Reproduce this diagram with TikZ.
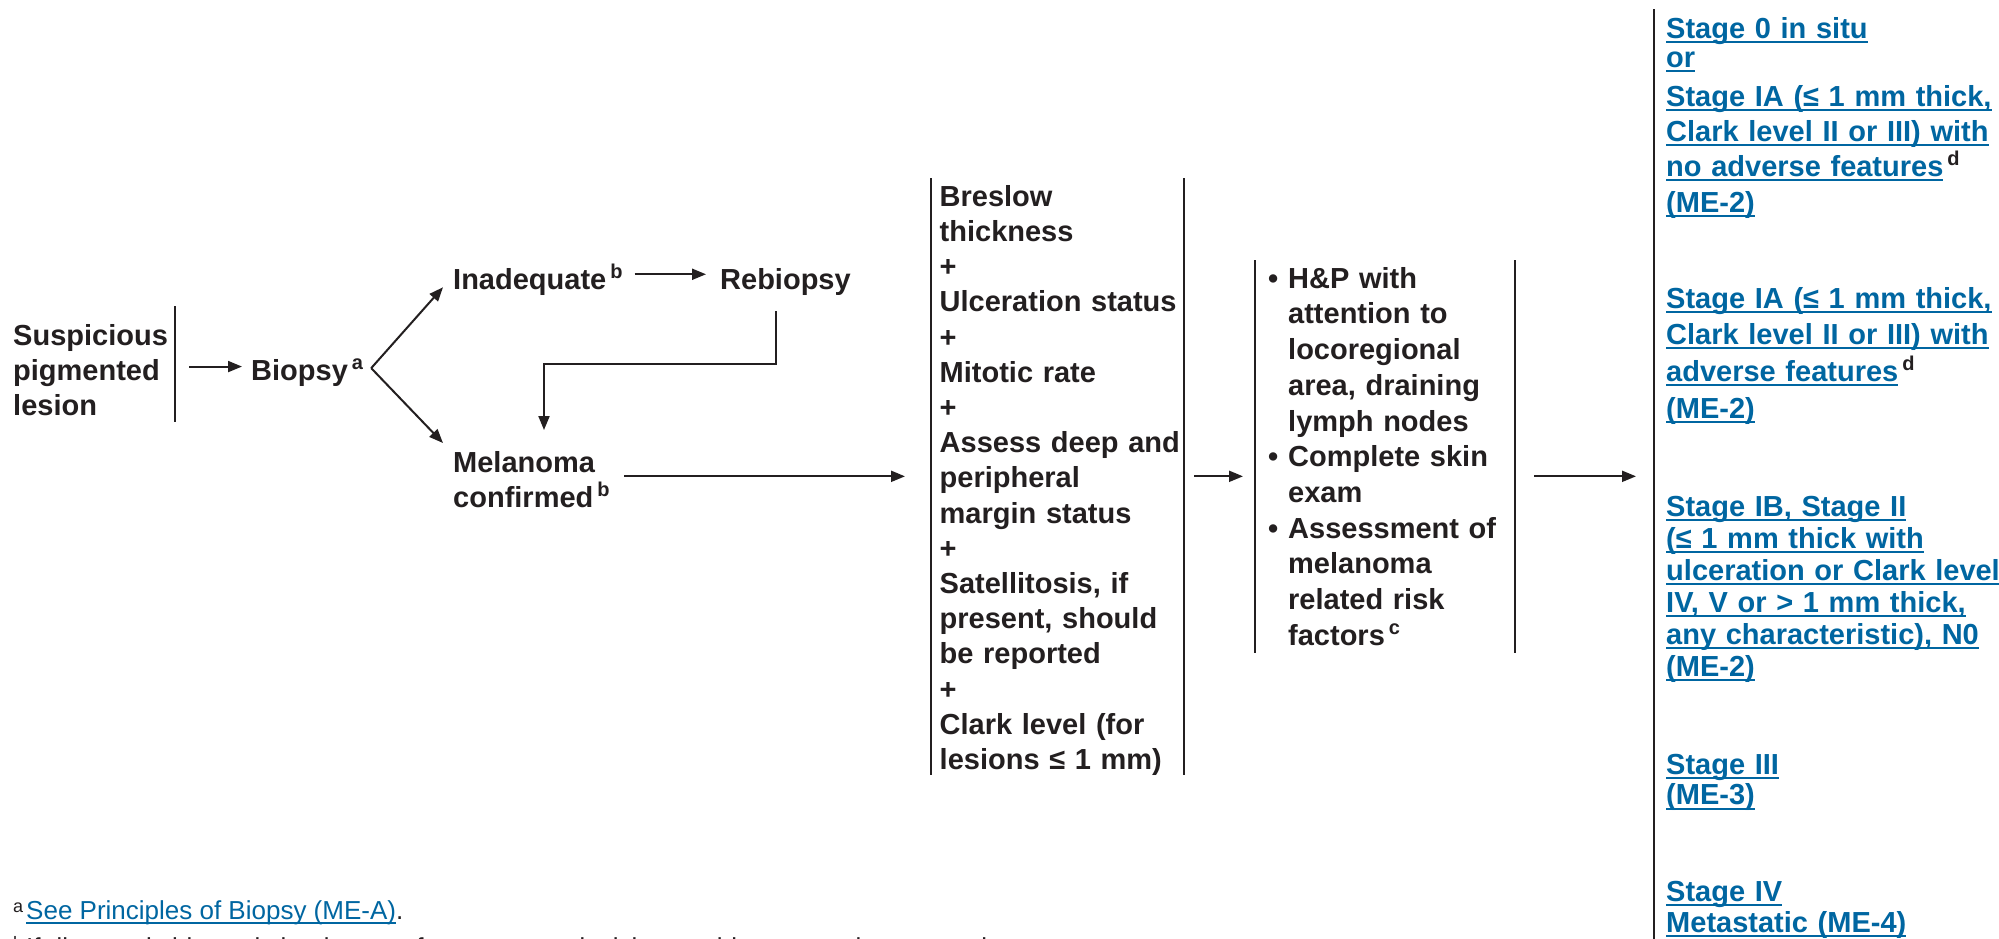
\documentclass[tikz,border=0pt]{standalone}
\usepackage{fontspec}
\setmainfont{Liberation Sans}
\usetikzlibrary{arrows.meta}
\definecolor{ink}{HTML}{231F20}
\definecolor{nccnblue}{HTML}{0066A1}
\setlength{\parindent}{0pt}
\newsavebox{\ulbox}
\newcommand{\uln}[1]{\leavevmode\sbox{\ulbox}{#1}\rlap{\rule[-5pt]{\wd\ulbox}{2pt}}\usebox{\ulbox}}
\newcommand{\fn}[1]{\hspace{4pt}\raisebox{11pt}{\fontsize{20}{20}\selectfont #1}}
\newcommand{\fnote}[1]{\raisebox{7pt}{\fontsize{18}{18}\selectfont #1}\hspace{3pt}}
\newcommand{\bitem}{\hangindent=23pt\hangafter=1\noindent\makebox[23pt][l]{\hspace{3pt}\textbullet}}
\begin{document}
\begin{tikzpicture}[
      x=1pt, y=-1pt, %one unit is one pixel, y runs down
      txt/.style={inner sep=0, text=ink, font=\fontsize{29}{35.2}\selectfont\bfseries},
      col/.style={txt, align=left, anchor=north west},
      stage/.style={txt, text=nccnblue, align=left, anchor=north west, text width=400pt},
      note/.style={inner sep=0, text=ink, anchor=base west, font=\fontsize{26}{32}\selectfont},
      bar/.style={draw=ink, line width=2pt},
      arr/.style={draw=ink, line width=2pt, ->, >={Triangle[length=14pt,width=11pt]}}
    ]
    \fill[white] (0,0) rectangle (1999,938);
    \useasboundingbox (0,0) rectangle (1999,938);
    \clip (0,0) rectangle (1999,938);
    % first column
    \node[col, text width=162pt] (lesion) at (13,324) {Suspicious\\pigmented\\lesion};
    \draw[bar] ([yshift=18pt]lesion.north east) -- ([yshift=-6pt]lesion.south east);
    \node[txt, anchor=base west] (biopsy) at (251,380) {Biopsy\fn{a}};
    \node[txt, anchor=base west] (inadequate) at (453,289) {Inadequate\fn{b}};
    \node[txt, anchor=base west] (rebiopsy) at (720,289) {Rebiopsy};
    \node[col, text width=160pt] (melanoma) at (453,451) {Melanoma\\confirmed\fn{b}};
    % workup columns
    \node[col, inner xsep=8.5pt, inner ysep=5pt, text width=245pt] (assess) at (931,180)
      {Breslow\\thickness\\+\\Ulceration status\\+\\Mitotic rate\\+\\Assess deep and\\peripheral\\margin status\\+\\Satellitosis, if\\present, should\\be reported\\+\\Clark level (for\\lesions ≤ 1 mm)};
    \draw[bar] ([yshift=2pt]assess.north west) -- ([yshift=6pt]assess.south west);
    \draw[bar] ([xshift=-9pt,yshift=2pt]assess.north east) -- ([xshift=-9pt,yshift=6pt]assess.south east);
    \node[col, inner xsep=10pt, inner ysep=7pt, text width=240pt,
      font=\fontsize{29}{35.7}\selectfont\bfseries] (hp) at (1255,260)
      {\bitem H\&P with\newline attention to\newline locoregional\newline area, draining\newline lymph nodes\par
       \bitem Complete skin\newline exam\par
       \bitem Assessment of\newline melanoma\newline related risk\newline factors\fn{c}\par};
    \draw[bar] (hp.north west) -- (hp.south west);
    \draw[bar] (hp.north east) -- (hp.south east);
    % stages
    \coordinate (stagetop) at (1654,9);
    \coordinate (stagebot) at (1654,945);
    \draw[bar, line width=2.5pt] (stagetop) -- (stagebot);
    \node[stage, font=\fontsize{29}{35}\selectfont\bfseries] (stage0) at (1666,17)
      {\uln{Stage 0 in situ}\\[-6pt]
       \uln{or}\\[4pt]
       \uln{Stage IA (≤ 1 mm thick,}\\
       \uln{Clark level II or III) with}\\
       \uln{no adverse features}\fn{\textcolor{ink}{d}}\\[1pt]
       \uln{(ME-2)}};
    \node[stage, font=\fontsize{29}{36}\selectfont\bfseries] (stageIA) at (1666,287)
      {\uln{Stage IA (≤ 1 mm thick,}\\
       \uln{Clark level II or III) with}\\[1pt]
       \uln{adverse features}\fn{\textcolor{ink}{d}}\\[1pt]
       \uln{(ME-2)}};
    \node[stage, font=\fontsize{29}{32}\selectfont\bfseries] (stageII) at (1666,496)
      {\uln{Stage IB, Stage II}\\
       \uln{(≤ 1 mm thick with}\\
       \uln{ulceration or Clark level}\\
       \uln{IV, V or > 1 mm thick,}\\
       \uln{any characteristic), N0}\\
       \uln{(ME-2)}};
    \node[stage, font=\fontsize{29}{30.5}\selectfont\bfseries] (stageIII) at (1666,754)
      {\uln{Stage III}\\\uln{(ME-3)}};
    \node[stage, font=\fontsize{29}{31}\selectfont\bfseries] (stageIV) at (1666,881)
      {\uln{Stage IV}\\\uln{Metastatic (ME-4)}};
    % arrows
    \coordinate (split) at ([xshift=8pt,yshift=4pt]biopsy.east);
    \coordinate (row) at ([yshift=4pt]assess.west);
    \draw[arr, shorten <=14pt, shorten >=9pt] ([yshift=3.5pt]lesion.east) -- ([yshift=3.5pt]lesion.east -| biopsy.west);
    \draw[arr] (split) -- ([xshift=-10pt,yshift=-8pt]inadequate.west);
    \draw[arr] (split) -- ([xshift=-10pt,yshift=8pt]melanoma.north west);
    \draw[arr, shorten <=12pt, shorten >=14pt] ([yshift=5pt]inadequate.east) -- ([yshift=5pt]inadequate.east -| rebiopsy.west);
    \draw[arr] ([xshift=-9pt,yshift=-16pt]rebiopsy.south) -- ++(0,53) -| ([xshift=91pt,yshift=21pt]melanoma.north west);
    \draw[arr, shorten <=11pt, shorten >=26pt] (row -| melanoma.east) -- (row -| assess.west);
    \draw[arr, shorten <=1pt, shorten >=12pt] (row -| assess.east) -- (row -| hp.west);
    \draw[arr, shorten <=19pt, shorten >=18pt] (row -| hp.east) -- (row -| stagetop);
    % footnotes
    \node[note] (fna) at (13,919) {\fnote{a}\textcolor{nccnblue}{\uln{See Principles of Biopsy (ME-A)}}.};
    \node[note] (fnb) at (13,956) {\fnote{b}If diagnostic biopsy is inadequate for treatment decisions, rebiopsy may be appropriate.};
\end{tikzpicture}
\end{document}
